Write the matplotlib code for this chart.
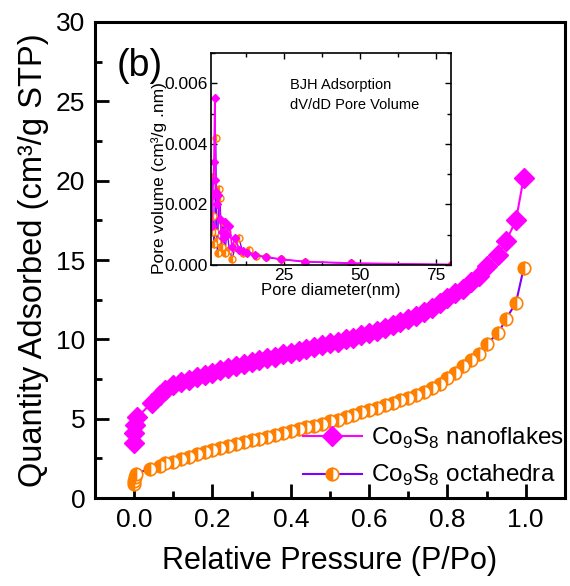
import matplotlib
matplotlib.use("Agg")
import matplotlib.pyplot as plt
from matplotlib.ticker import MultipleLocator, FormatStrFormatter

plt.rcParams['font.family'] = ['Liberation Sans', 'DejaVu Sans']
plt.rcParams['mathtext.fontset'] = 'custom'
plt.rcParams['mathtext.rm'] = 'Liberation Sans'

# ---- isotherm data ----
p_flakes = [0.0, 0.0, 0.003, 0.008, 0.045, 0.065, 0.08, 0.10, 0.12, 0.14, 0.16, 0.18, 0.20,
            0.22, 0.24, 0.26, 0.28, 0.30, 0.32, 0.34, 0.36, 0.38, 0.40, 0.42, 0.44, 0.46,
            0.48, 0.50, 0.52, 0.54, 0.56, 0.58, 0.60, 0.62, 0.64, 0.66, 0.68, 0.70, 0.72,
            0.74, 0.76, 0.78, 0.80, 0.82, 0.84, 0.86, 0.88, 0.90, 0.93, 0.95, 0.975, 0.995]
q_flakes = [3.5, 4.1, 4.6, 5.1, 6.0, 6.5, 6.8, 7.1, 7.3, 7.45, 7.6, 7.75, 7.9,
            8.05, 8.2, 8.3, 8.45, 8.55, 8.7, 8.8, 8.9, 9.05, 9.15, 9.3, 9.4, 9.5,
            9.65, 9.75, 9.85, 10.0, 10.1, 10.25, 10.4, 10.55, 10.7, 10.9, 11.1, 11.3, 11.5,
            11.75, 12.0, 12.3, 12.6, 12.9, 13.2, 13.6, 14.0, 14.6, 15.3, 16.2, 17.5, 20.2]

p_octa = [0.0, 0.0, 0.002, 0.005, 0.04, 0.065, 0.08, 0.10, 0.12, 0.14, 0.16, 0.18, 0.20,
          0.22, 0.24, 0.26, 0.28, 0.30, 0.32, 0.34, 0.36, 0.38, 0.40, 0.42, 0.44, 0.46,
          0.48, 0.50, 0.52, 0.54, 0.56, 0.58, 0.60, 0.62, 0.64, 0.66, 0.68, 0.70, 0.72,
          0.74, 0.76, 0.78, 0.80, 0.82, 0.84, 0.86, 0.88, 0.90, 0.93, 0.95, 0.975, 0.995]
q_octa = [0.9, 1.1, 1.3, 1.55, 1.85, 2.05, 2.2, 2.3, 2.45, 2.6, 2.75, 2.9, 3.0,
          3.15, 3.3, 3.4, 3.55, 3.65, 3.75, 3.85, 3.95, 4.1, 4.2, 4.35, 4.45, 4.55,
          4.7, 4.85, 4.95, 5.1, 5.25, 5.4, 5.55, 5.7, 5.85, 6.0, 6.15, 6.3, 6.5,
          6.7, 6.95, 7.2, 7.55, 7.9, 8.3, 8.7, 9.1, 9.7, 10.4, 11.3, 12.3, 14.5]

# ---- BJH pore size distribution (inset) ----
d_octa = [1.3, 1.5, 1.7, 2.0, 2.3, 2.6, 2.9, 3.2, 3.6, 4.0, 4.5, 5.0, 5.6, 6.3, 7.1,
          8.0, 9.0, 10.2, 11.5, 13.5, 16, 19, 24, 32, 47, 80]
v_octa = [0.0011, 0.0029, 0.0016, 0.0007, 0.0011, 0.0042, 0.0008, 0.0004, 0.0025, 0.0022,
          0.0006, 0.0014, 0.0004, 0.0011, 0.0005, 0.0002, 0.0006, 0.0009, 0.0004, 0.0005,
          0.0003, 0.00025, 0.00018, 0.0001, 0.00005, 0.00001]

d_flakes = [1.3, 1.6, 2.0, 2.3, 2.5, 2.8, 3.1, 3.5, 4.0, 4.5, 5.0, 5.6, 6.3, 7.0, 8.0,
            9.0, 10.2, 11.5, 13.0, 15.5, 19, 24, 32, 47, 80]
v_flakes = [0.0013, 0.0023, 0.0034, 0.0055, 0.0028, 0.0024, 0.0020, 0.0023, 0.0015, 0.0011,
            0.0009, 0.0014, 0.0010, 0.0013, 0.0006, 0.0009, 0.0005, 0.00045, 0.0004, 0.00033,
            0.00027, 0.00019, 0.00011, 0.00006, 0.00001]

magenta = '#FF00FF'
orange = '#FF8000'
purple = '#8000FF'

fig = plt.figure(figsize=(5.7, 5.86), dpi=100)
ax = fig.add_axes([0.1667, 0.150, 0.8243, 0.8125])

ax.plot(p_octa, q_octa, color=purple, lw=1.5, marker='o', ms=9, fillstyle='left',
        mfc=orange, mfcalt='white', mec=orange, mew=1.2,
        label=r'Co$_\mathregular{9}$S$_\mathregular{8}$ octahedra', zorder=2)
ax.plot(p_flakes, q_flakes, color=magenta, lw=1.5, marker='D', ms=10, mfc=magenta, mec=magenta,
        label=r'Co$_\mathregular{9}$S$_\mathregular{8}$ nanoflakes', zorder=3)

ax.set_xlim(-0.1, 1.1)
ax.set_ylim(0, 30)
ax.xaxis.set_major_locator(MultipleLocator(0.2))
ax.xaxis.set_minor_locator(MultipleLocator(0.1))
ax.yaxis.set_major_locator(MultipleLocator(5))
ax.yaxis.set_minor_locator(MultipleLocator(2.5))
ax.set_xticks([0.0, 0.2, 0.4, 0.6, 0.8, 1.0])
ax.set_xticklabels(['0.0', '0.2', '0.4', '0.6', '0.8', '1.0'])
ax.tick_params(which='both', direction='in', top=False, right=False, labelsize=19, width=2)
ax.tick_params(which='major', length=10, pad=7)
ax.tick_params(which='minor', length=5)
for s in ax.spines.values():
    s.set_linewidth(2.2)
ax.set_xlabel('Relative Pressure (P/Po)', fontsize=22, labelpad=10)
ax.set_ylabel('Quantity Adsorbed (cm³/g STP)', fontsize=23.5, labelpad=5)
ax.text(0.045, 0.945, '(b)', transform=ax.transAxes, fontsize=27, va='top', ha='left')

h, l = ax.get_legend_handles_labels()
ax.legend(h[::-1], l[::-1], loc='lower right', bbox_to_anchor=(1.03, -0.01), frameon=False,
          fontsize=17.5, handlelength=2.4, handletextpad=0.4, labelspacing=0.5, borderaxespad=0.2)

# ---- inset ----
ins = fig.add_axes([0.370, 0.548, 0.421, 0.3616])
ins.plot(d_octa, v_octa, color=purple, lw=1, marker='o', ms=5, fillstyle='left',
         mfc=orange, mfcalt='white', mec=orange, mew=1)
ins.plot(d_flakes, v_flakes, color=magenta, lw=1.2, marker='D', ms=4, mfc=magenta, mec=magenta)
ins.set_xlim(1, 80)
ins.set_ylim(0, 0.007)
ins.xaxis.set_major_locator(MultipleLocator(25))
ins.xaxis.set_minor_locator(MultipleLocator(12.5))
ins.yaxis.set_major_locator(MultipleLocator(0.002))
ins.yaxis.set_minor_locator(MultipleLocator(0.001))
ins.yaxis.set_major_formatter(FormatStrFormatter('%.3f'))
ins.tick_params(which='both', direction='in', top=True, right=True, labelsize=12.5, width=1, pad=2)
ins.tick_params(which='major', length=4)
ins.tick_params(which='minor', length=3)
for s in ins.spines.values():
    s.set_linewidth(1.2)
ins.set_xlabel('Pore diameter(nm)', fontsize=12, labelpad=0)
ins.set_ylabel('Pore volume (cm³/g .nm)', fontsize=12.5)
ins.yaxis.set_label_coords(-0.185, 0.41)
ins.text(0.33, 0.88, 'BJH Adsorption\ndV/dD Pore Volume', transform=ins.transAxes,
         fontsize=10.5, va='top', ha='left', linespacing=1.5)

fig.savefig('out.png', dpi=100)
